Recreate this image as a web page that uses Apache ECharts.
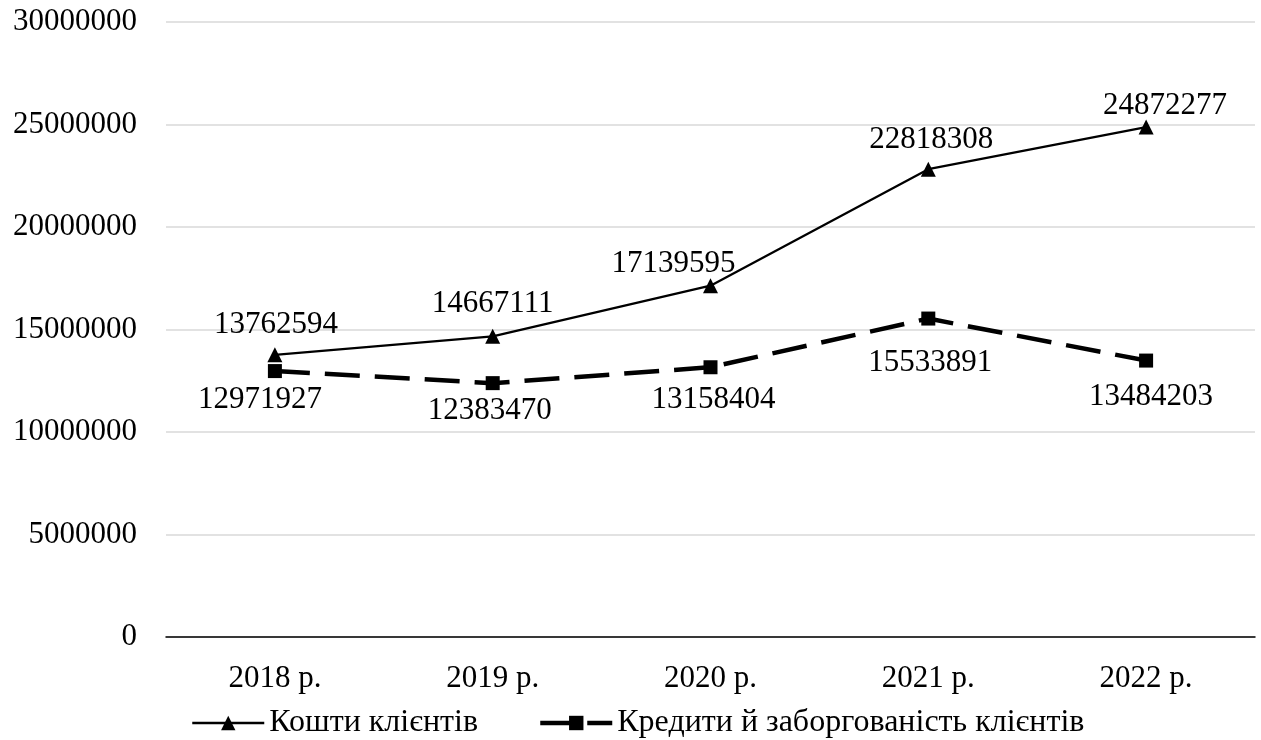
<!DOCTYPE html>
<html><head><meta charset="utf-8">
<script src="https://cdn.jsdelivr.net/npm/echarts@6/dist/echarts.min.js"></script>
<style>html,body{margin:0;padding:0;background:#fff}#c{width:1261px;height:740px}</style>
</head><body><div id="c"></div>
<script>
const categories = ['2018 р.', '2019 р.', '2020 р.', '2021 р.', '2022 р.'];
const seriesNames = ['Кошти клієнтів', 'Кредити й заборгованість клієнтів'];
const funds = [13762594, 14667111, 17139595, 22818308, 24872277];
const loans = [12971927, 12383470, 13158404, 15533891, 13484203];
const yMin = 0, yMax = 30000000, yStep = 5000000;

// label placement nudges (pixels, relative to the marker centre)
const fundsLabelOffsets = [[1, -30], [0, -32], [-37, -22], [3, -29], [19, -21]];
const loansLabelOffsets = [[-15, 29], [-3, 28], [3, 33], [2, 44], [5, 36]];

const font = 'Liberation Serif, Times New Roman, serif';
const chart = echarts.init(document.getElementById('c'));

function withOffsets(values, offsets) {
  return values.map((v, i) => ({ value: v, label: { offset: offsets[i] } }));
}

chart.setOption({
  animation: false,
  textStyle: { fontFamily: font },
  grid: { left: 166, right: 6, top: 22, bottom: 103 },
  legend: {
    bottom: 1, left: 191, padding: 0, itemWidth: 72, itemHeight: 18, itemGap: 60,
    textStyle: { fontFamily: font, fontSize: 32, color: '#000' },
    data: [
      { name: seriesNames[0], lineStyle: { width: 2.5, color: '#000' } },
      { name: seriesNames[1], lineStyle: { width: 4.5, color: '#000', type: [30, 17] } }
    ]
  },
  xAxis: {
    type: 'category', data: categories, boundaryGap: true,
    axisLine: { lineStyle: { color: '#000', width: 1.5 } },
    axisTick: { show: false },
    axisLabel: { fontFamily: font, fontSize: 31, color: '#000', margin: 26 }
  },
  yAxis: {
    type: 'value', min: yMin, max: yMax, interval: yStep,
    axisLine: { show: false }, axisTick: { show: false },
    splitLine: { lineStyle: { color: '#d9d9d9', width: 1.5 } },
    axisLabel: { fontFamily: font, fontSize: 31, color: '#000', margin: 29, formatter: v => String(v) }
  },
  series: [
    {
      name: seriesNames[0], type: 'line', data: withOffsets(funds, fundsLabelOffsets),
      symbol: 'triangle', symbolSize: 15,
      itemStyle: { color: '#000' },
      lineStyle: { color: '#000', width: 2.25 },
      label: { show: true, position: 'inside', fontFamily: font, fontSize: 31, color: '#000', formatter: p => String(p.value) }
    },
    {
      name: seriesNames[1], type: 'line', data: withOffsets(loans, loansLabelOffsets),
      symbol: 'rect', symbolSize: 14,
      itemStyle: { color: '#000' },
      lineStyle: { color: '#000', width: 4.5, type: [35, 15] },
      label: { show: true, position: 'inside', fontFamily: font, fontSize: 31, color: '#000', formatter: p => String(p.value) }
    }
  ]
});
</script></body></html>
